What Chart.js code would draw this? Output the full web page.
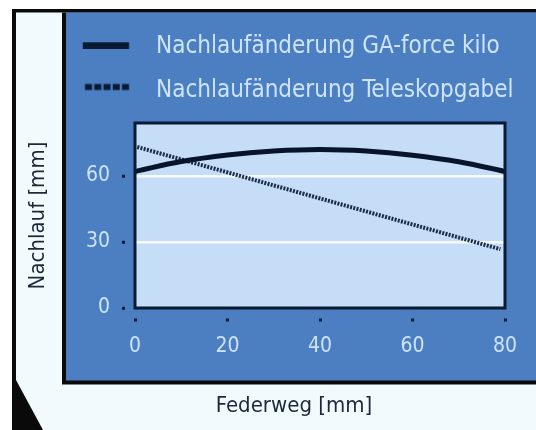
<!DOCTYPE html>
<html>
<head>
<meta charset="utf-8">
<script src="https://cdn.jsdelivr.net/npm/chart.js@4.4.1/dist/chart.umd.min.js"></script>
<style>
  html, body { margin: 0; padding: 0; background: #fff; }
  canvas { display: block; }
</style>
</head>
<body>
<canvas id="chart" width="536" height="430"></canvas>
<script>
// Federweg [mm] -> Nachlauf [mm]
const federweg = [0, 10, 20, 30, 40, 50, 60, 70, 80];
const nachlaufGaForce = [62, 66.5, 69.5, 71.3, 72, 71.3, 69.4, 66.4, 62];
const federwegTeleskop = [0.5, 79];
const nachlaufTeleskop = [73.1, 26.7];
const seriesLabels = ["Nachlaufänderung GA-force kilo", "Nachlaufänderung Teleskopgabel"];
const xTicks = [0, 20, 40, 60, 80];
const yTicks = [0, 30, 60];

const FONT = "'DejaVu Sans Condensed', 'DejaVu Sans', sans-serif";
const NAVY = "#0b1a33";
const PANEL = "#4b7fc1";
const PLOT_BG = "#c6ddf7";
const LIGHT_BG = "#f1fbfe";
const LIGHT_TEXT = "#cde4fb";
const DARK_TEXT = "#1c2839";
const GRID_WHITE = "#f6fbff";

// legend samples: short bar / dotted bar
function legendSample(kind) {
    const c = document.createElement("canvas");
    c.width = 52;
    c.height = 16;
    const g = c.getContext("2d");
    g.fillStyle = NAVY;
    if (kind === "solid") {
        g.fillRect(1, 3.3, 46.3, 6.7);
    } else {
        for (let i = 0; i < 5; i++) {
            g.fillRect(3.25 + i * 9.25, 1.5, 7, 6);
        }
    }
    return c;
}
const samples = [legendSample("solid"), legendSample("dotted")];

const framePlugin = {
    id: "frame",
    beforeDraw(chart) {
        const { ctx, chartArea: a } = chart;
        ctx.save();
        ctx.fillStyle = "#ffffff";
        ctx.fillRect(0, 0, 536, 430);
        ctx.fillStyle = "#0a0a0a";
        ctx.fillRect(12, 9, 524, 421);
        ctx.fillStyle = LIGHT_BG;
        ctx.fillRect(16, 12.5, 520, 417.5);
        ctx.fillStyle = "#0a0a0a";
        ctx.beginPath();
        ctx.moveTo(16, 380);
        ctx.lineTo(43, 430);
        ctx.lineTo(16, 430);
        ctx.closePath();
        ctx.fill();
        ctx.fillRect(62, 12.5, 474, 372);
        ctx.fillStyle = PANEL;
        ctx.fillRect(66, 12.5, 470, 368);
        ctx.fillStyle = PLOT_BG;
        ctx.fillRect(a.left, a.top, a.width, a.height);
        ctx.restore();
    },
    afterDatasetsDraw(chart) {
        const { ctx, chartArea: a } = chart;
        ctx.save();
        ctx.strokeStyle = NAVY;
        ctx.lineWidth = 3;
        ctx.strokeRect(a.left, a.top, a.width, a.height);
        ctx.restore();
    }
};

new Chart(document.getElementById("chart"), {
    type: "line",
    data: {
        datasets: [{
            label: seriesLabels[0],
            data: federweg.map((x, i) => ({ x: x, y: nachlaufGaForce[i] })),
            borderColor: "#07142a",
            borderWidth: 5,
            pointRadius: 0,
            tension: 0.4,
            fill: false
        },
        {
            label: seriesLabels[1],
            data: federwegTeleskop.map((x, i) => ({ x: x, y: nachlaufTeleskop[i] })),
            borderColor: "#1a2c4c",
            borderWidth: 4,
            borderDash: [2, 1.3],
            pointRadius: 0,
            fill: false
        }]
    },
    options: {
        responsive: false,
        animation: false,
        devicePixelRatio: 1,
        events: [],
        layout: {
            padding: { left: 52, top: 15.5, right: 0, bottom: 0 }
        },
        scales: {
            x: {
                type: "linear",
                min: 0,
                max: 80,
                afterBuildTicks: function(scale) {
                    scale.ticks = xTicks.map(v => ({ value: v }));
                },
                afterFit: function(scale) {
                    scale.height = 84.8;
                },
                border: { display: false },
                grid: {
                    drawOnChartArea: false,
                    tickLength: 14,
                    tickWidth: 3,
                    tickColor: NAVY,
                    tickBorderDash: [3, 20],
                    tickBorderDashOffset: 12.5
                },
                ticks: {
                    color: LIGHT_TEXT,
                    font: { family: FONT, size: 21 },
                    padding: 12,
                    maxRotation: 0
                }
            },
            y: {
                min: 0,
                max: 84,
                afterBuildTicks: function(scale) {
                    scale.ticks = yTicks.map(v => ({ value: v }));
                },
                afterFit: function(scale) {
                    scale.width = 83;
                },
                border: { display: false },
                grid: {
                    color: function(context) {
                        return context.tick && context.tick.value === 0 ? "transparent" : GRID_WHITE;
                    },
                    lineWidth: 2.5,
                    tickLength: 14,
                    tickWidth: 3,
                    tickColor: NAVY,
                    tickBorderDash: [3, 20],
                    tickBorderDashOffset: 22
                },
                ticks: {
                    color: LIGHT_TEXT,
                    font: { family: FONT, size: 21 },
                    padding: 11
                },
                title: {
                    display: true,
                    text: "Nachlauf [mm]",
                    color: DARK_TEXT,
                    font: { family: FONT, size: 22 },
                    padding: { top: -27.2, bottom: 0 }
                }
            },
            yR: {
                position: "right",
                display: true,
                grid: { display: false },
                ticks: { display: false },
                border: { display: false },
                afterFit: function(scale) {
                    scale.width = 31;
                }
            }
        },
        plugins: {
            legend: {
                position: "top",
                align: "start",
                weight: 1600,
                labels: {
                    usePointStyle: true,
                    pointStyleWidth: 72.5,
                    padding: 19.5,
                    color: LIGHT_TEXT,
                    font: { family: FONT, size: 24 },
                    generateLabels: function(chart) {
                        return chart.data.datasets.map((ds, i) => ({
                            text: ds.label,
                            pointStyle: samples[i],
                            fillStyle: "transparent",
                            strokeStyle: "transparent",
                            lineWidth: 0,
                            fontColor: LIGHT_TEXT,
                            hidden: false,
                            datasetIndex: i
                        }));
                    }
                }
            },
            // empty spacer between legend and plot
            subtitle: {
                display: true,
                position: "top",
                text: " ",
                font: { size: 1 },
                padding: { top: 0, bottom: 9.3 }
            },
            title: {
                display: true,
                position: "bottom",
                text: "Federweg [mm]",
                color: DARK_TEXT,
                font: { family: FONT, size: 22, weight: "normal" },
                padding: { top: 0, bottom: 10.8 }
            },
            tooltip: { enabled: false }
        }
    },
    plugins: [framePlugin]
});
</script>
</body>
</html>
